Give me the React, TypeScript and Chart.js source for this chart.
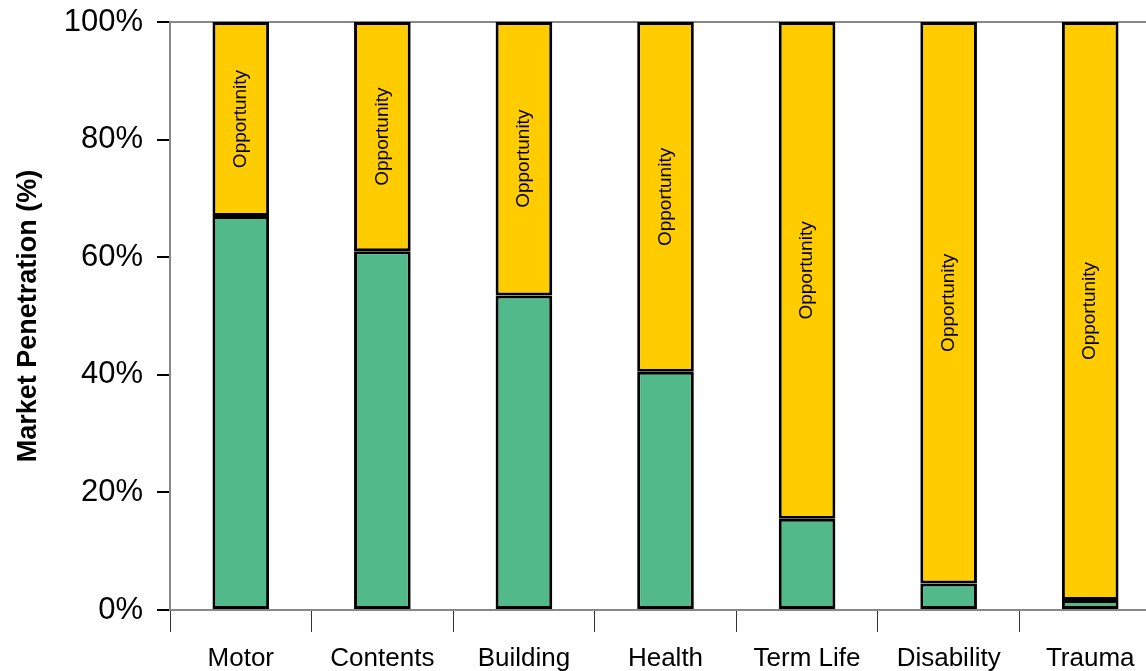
import React, { useEffect, useRef } from "react";
import { Chart, registerables } from "chart.js";

Chart.register(...registerables);

const categories = ["Motor", "Contents", "Building", "Health", "Term Life", "Disability", "Trauma"];
const penetration = [67, 61, 53.5, 40.5, 15.5, 4.5, 1.7];
const opportunity = [33, 39, 46.5, 59.5, 84.5, 95.5, 98.3];
const opportunityLabel = "Opportunity";
const yTickValues = [0, 20, 40, 60, 80, 100];
const yTitle = "Market Penetration (%)";

const FONT = "'Liberation Sans', Arial, sans-serif";

const segmentLabelPlugin = {
  id: "segmentLabels",
  afterDatasetsDraw(chart: any) {
    const meta = chart.getDatasetMeta(1);
    const ctx = chart.ctx;
    ctx.save();
    ctx.fillStyle = "#000";
    ctx.font = `19px ${FONT}`;
    ctx.textAlign = "center";
    ctx.textBaseline = "middle";
    meta.data.forEach((el: any) => {
      const cy = (el.y + el.base) / 2;
      ctx.save();
      ctx.translate(el.x, cy);
      ctx.rotate(-Math.PI / 2);
      ctx.fillText(opportunityLabel, 0, 0);
      ctx.restore();
    });
    ctx.restore();
  },
};

export default function App() {
  const ref = useRef<HTMLCanvasElement | null>(null);

  useEffect(() => {
    if (!ref.current) return;
    const chart = new Chart(ref.current, {
      type: "bar",
      data: {
        labels: categories,
        datasets: [
          {
            label: "Penetration",
            data: penetration,
            backgroundColor: "#52B98B",
            borderColor: "#000",
            borderWidth: 3,
            borderSkipped: false,
            categoryPercentage: 1,
            barPercentage: 0.4,
          },
          {
            label: opportunityLabel,
            data: opportunity,
            backgroundColor: "#FFCC00",
            borderColor: "#000",
            borderWidth: 3,
            borderSkipped: false,
            categoryPercentage: 1,
            barPercentage: 0.4,
          },
        ],
      },
      options: {
        responsive: false,
        animation: false,
        layout: { padding: { top: 22, right: 0, left: 0, bottom: 0 } },
        plugins: {
          legend: { display: false },
          tooltip: { enabled: false },
        },
        scales: {
          x: {
            stacked: true,
            grid: {
              drawOnChartArea: false,
              color: "#333",
              tickColor: "#333",
              tickLength: 22,
              offset: true,
            },
            border: { color: "#888", width: 2 },
            ticks: {
              color: "#000",
              font: { family: FONT, size: 26 },
              padding: 11,
              maxRotation: 0,
              autoSkip: false,
            },
            afterFit(scale: any) {
              scale.height = 61;
            },
          },
          y: {
            stacked: true,
            min: 0,
            max: 100,
            afterBuildTicks(scale: any) {
              scale.ticks = yTickValues.map((v) => ({ value: v }));
            },
            afterFit(scale: any) {
              scale.width = 170;
              scale.paddingTop = 0;
              scale.paddingBottom = 0;
            },
            grid: {
              color: (c: any) => (c.tick && c.tick.value === 100 ? "#888" : "rgba(0,0,0,0)"),
              lineWidth: 2,
              tickColor: "#000",
              tickLength: 13,
            },
            border: { color: "#888", width: 2 },
            ticks: {
              color: "#000",
              font: { family: FONT, size: 31 },
              padding: 14,
              callback: (v: any) => `${v}%`,
            },
            title: {
              display: true,
              text: yTitle,
              color: "#000",
              font: { family: FONT, size: 27, weight: "bold" },
              padding: { top: 12, bottom: 0 },
            },
          },
        },
      },
      plugins: [segmentLabelPlugin],
    });
    return () => chart.destroy();
  }, []);

  return (
    <div
      style={{
        position: "fixed",
        left: 0,
        top: 0,
        width: 1146,
        height: 671,
        overflow: "hidden",
        background: "#fff",
      }}
    >
      <canvas ref={ref} width={1161} height={671} style={{ display: "block" }} />
    </div>
  );
}
